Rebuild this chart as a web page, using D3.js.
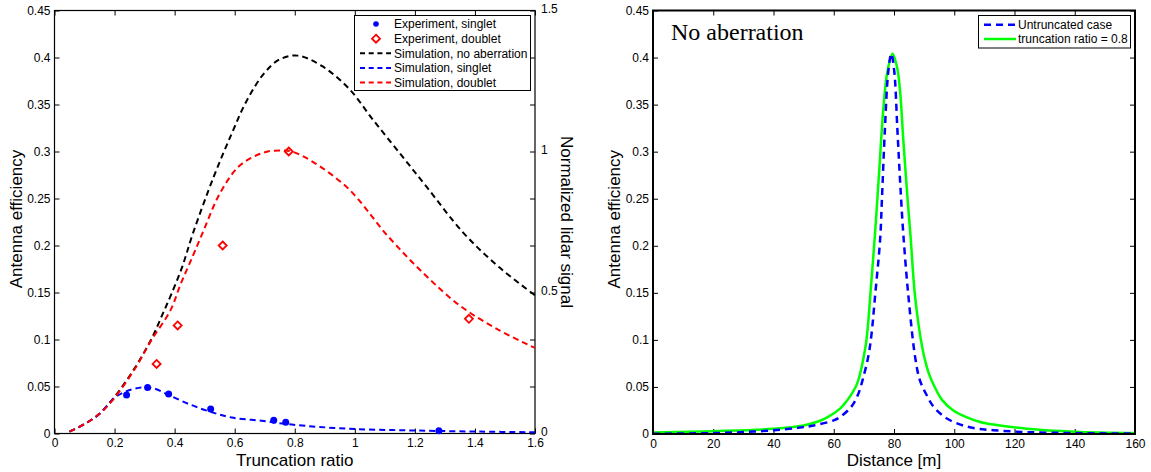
<!DOCTYPE html>
<html>
<head>
<meta charset="utf-8">
<script src="https://cdn.jsdelivr.net/npm/d3@7"></script>
<style>
  html, body { margin: 0; padding: 0; background: #fff; }
  svg { display: block; font-family: "Liberation Sans", Arial, sans-serif; }
</style>
</head>
<body>
<svg id="chart" width="1151" height="472"></svg>
<script>
// ---------- DATA ----------
// Left panel: truncation ratio vs antenna efficiency
const expSinglet = [[0.24,0.041],[0.31,0.049],[0.38,0.042],[0.52,0.026],[0.73,0.014],[0.77,0.012],[1.28,0.003]];
const expDoublet = [[0.34,0.074],[0.41,0.115],[0.56,0.2],[0.78,0.3],[1.38,0.122]];
const simNoAberration = [[0.05,0.002],[0.1,0.01],[0.15,0.021],[0.2,0.039],[0.27,0.071],[0.325,0.102],[0.36,0.127],[0.39,0.149],[0.425,0.177],[0.46,0.212],[0.53,0.273],[0.59,0.319],[0.64,0.354],[0.7,0.384],[0.75,0.398],[0.81,0.402],[0.89,0.391],[0.98,0.367],[1.06,0.334],[1.15,0.298],[1.24,0.262],[1.36,0.214],[1.48,0.177],[1.6,0.147]];
const simSinglet = [[0.05,0.002],[0.1,0.01],[0.15,0.021],[0.2,0.038],[0.24,0.045],[0.29,0.049],[0.33,0.048],[0.38,0.041],[0.45,0.031],[0.52,0.023],[0.59,0.017],[0.69,0.0135],[0.79,0.0095],[0.98,0.005],[1.2,0.0032],[1.42,0.002],[1.6,0.0013]];
const simDoublet = [[0.05,0.002],[0.1,0.01],[0.15,0.021],[0.2,0.038],[0.27,0.07],[0.32,0.098],[0.386,0.131],[0.42,0.159],[0.45,0.181],[0.49,0.211],[0.55,0.255],[0.61,0.283],[0.66,0.294],[0.71,0.3],[0.76,0.301],[0.79,0.3],[0.86,0.289],[0.98,0.26],[1.11,0.21],[1.23,0.17],[1.35,0.136],[1.48,0.11],[1.6,0.091]];
const leftXTicks = [0,0.2,0.4,0.6,0.8,1,1.2,1.4,1.6];
const effTicks = [0,0.05,0.1,0.15,0.2,0.25,0.3,0.35,0.4,0.45];
const lidarTickLabels = ["0","","","0.5","","","1","","","1.5"];
const leftLegend = ["Experiment, singlet","Experiment, doublet","Simulation, no aberration","Simulation, singlet","Simulation, doublet"];

// Right panel: distance vs antenna efficiency
const untruncated = [[0,0.0003],[20,0.001],[30,0.002],[40,0.004],[48,0.0065],[53.3,0.009],[60,0.0145],[62.1,0.018],[65,0.026],[66.5,0.032],[68.2,0.043],[69.8,0.06],[71.5,0.083],[72.5,0.105],[73.7,0.146],[75.4,0.207],[76,0.25],[77,0.325],[78.1,0.385],[79.1,0.404],[80.1,0.385],[81.1,0.325],[82,0.27],[83.1,0.212],[84.8,0.146],[87,0.082],[88.6,0.057],[90.9,0.041],[93.1,0.029],[96,0.02],[98.6,0.0146],[103,0.009],[107.5,0.0058],[113,0.004],[124,0.002],[140,0.001],[160,0.0004]];
const truncated08 = [[0,0.0015],[20,0.003],[40,0.0055],[50,0.009],[55,0.0135],[58,0.018],[62.1,0.027],[64.3,0.035],[67.7,0.053],[70.4,0.09],[71.2,0.11],[72.1,0.146],[73.7,0.213],[75,0.275],[76.5,0.347],[77.8,0.385],[79.5,0.404],[81,0.39],[82,0.365],[83.1,0.312],[84.5,0.25],[85.5,0.21],[87,0.146],[89.5,0.09],[91.5,0.065],[93.5,0.05],[96,0.036],[99.7,0.025],[104,0.018],[108.6,0.0128],[113,0.01],[124,0.0057],[140,0.0025],[160,0.001]];
const rightXTicks = [0,20,40,60,80,100,120,140,160];
const rightLegend = ["Untruncated case","truncation ratio = 0.8"];

// ---------- DRAW ----------
const svg = d3.select("#chart");
const FS_TICK = 12, FS_LABEL = 17;

function styleAxis(g, w) {
  g.select(".domain").remove();
  g.selectAll(".tick line").attr("stroke", "#000").attr("stroke-width", w);
  g.selectAll(".tick text").attr("fill", "#000").style("font-size", FS_TICK + "px")
    .style("font-family", "'Liberation Sans', Arial, sans-serif");
}

// ===== Left panel =====
const L = {x0: 54.5, x1: 535, y0: 10.5, y1: 433.5};
const xL = d3.scaleLinear().domain([0, 1.6]).range([L.x0, L.x1]);
const yL = d3.scaleLinear().domain([0, 0.45]).range([L.y1, L.y0]);

const gL = svg.append("g");
gL.append("g").attr("transform", `translate(0,${L.y1})`)
  .call(d3.axisBottom(xL).tickValues(leftXTicks).tickSize(-5).tickPadding(5).tickFormat(d3.format("~g")))
  .call(g => styleAxis(g, 1));
gL.append("g").attr("transform", `translate(0,${L.y0})`)
  .call(d3.axisTop(xL).tickValues(leftXTicks).tickSize(-5).tickFormat(""))
  .call(g => styleAxis(g, 1));
gL.append("g").attr("transform", `translate(${L.x0},0)`)
  .call(d3.axisLeft(yL).tickValues(effTicks).tickSize(-5).tickPadding(4).tickFormat(d3.format("~g")))
  .call(g => styleAxis(g, 1));
gL.append("g").attr("transform", `translate(${L.x1},0)`)
  .call(d3.axisRight(yL).tickValues(effTicks).tickSize(-5).tickPadding(6).tickFormat((d, i) => lidarTickLabels[i]))
  .call(g => styleAxis(g, 1))
  .call(g => g.selectAll(".tick text").attr("dy", "0.2em"));
gL.append("rect").attr("x", L.x0).attr("y", L.y0).attr("width", L.x1 - L.x0).attr("height", L.y1 - L.y0)
  .attr("fill", "none").attr("stroke", "#000").attr("stroke-width", 1.2);

const lineL = d3.line().x(d => xL(d[0])).y(d => yL(d[1])).curve(d3.curveCatmullRom.alpha(0.5));
const leftLines = [
  {data: simNoAberration, color: "#000000"},
  {data: simSinglet, color: "#0000ff"},
  {data: simDoublet, color: "#ff0000"}
];
leftLines.forEach(s => {
  gL.append("path").attr("d", lineL(s.data)).attr("fill", "none")
    .attr("stroke", s.color).attr("stroke-width", 2).attr("stroke-dasharray", "6,4");
});
gL.selectAll("circle.exp").data(expSinglet).join("circle").attr("class", "exp")
  .attr("cx", d => xL(d[0])).attr("cy", d => yL(d[1])).attr("r", 3.5).attr("fill", "#0000ff");
const diamond = (cx, cy, r) => `M${cx},${cy - r}L${cx + r},${cy}L${cx},${cy + r}L${cx - r},${cy}Z`;
gL.selectAll("path.dia").data(expDoublet).join("path").attr("class", "dia")
  .attr("d", d => diamond(xL(d[0]), yL(d[1]), 4)).attr("fill", "none")
  .attr("stroke", "#ff0000").attr("stroke-width", 1.8);

gL.append("text").attr("x", (L.x0 + L.x1) / 2).attr("y", 466).attr("text-anchor", "middle")
  .style("font-size", FS_LABEL + "px").text("Truncation ratio");
gL.append("text").attr("transform", `translate(22,${(L.y0 + L.y1) / 2 - 3}) rotate(-90)`).attr("text-anchor", "middle")
  .style("font-size", FS_LABEL + "px").text("Antenna efficiency");
gL.append("text").attr("transform", `translate(561,${(L.y0 + L.y1) / 2}) rotate(90)`).attr("text-anchor", "middle")
  .style("font-size", FS_LABEL + "px").text("Normalized lidar signal");

// left legend
const lgL = gL.append("g");
lgL.append("rect").attr("x", 354.5).attr("y", 15.5).attr("width", 176).attr("height", 75)
  .attr("fill", "#fff").attr("stroke", "#000").attr("stroke-width", 1);
const legRows = [24, 38.7, 53.3, 68, 82.5];
leftLegend.forEach((t, i) => {
  const y = legRows[i];
  if (i === 0) lgL.append("circle").attr("cx", 376).attr("cy", y).attr("r", 2.8).attr("fill", "#0000ff");
  else if (i === 1) lgL.append("path").attr("d", diamond(376, y, 4)).attr("fill", "none").attr("stroke", "#ff0000").attr("stroke-width", 1.8);
  else {
    const c = ["#000000", "#0000ff", "#ff0000"][i - 2];
    lgL.append("line").attr("x1", 360).attr("x2", 391).attr("y1", y).attr("y2", y)
      .attr("stroke", c).attr("stroke-width", 2).attr("stroke-dasharray", "5,3.7");
  }
  lgL.append("text").attr("x", 394).attr("y", y).attr("dy", "0.35em").style("font-size", "12px").text(t);
});

// ===== Right panel =====
const R = {x0: 653, x1: 1135, y0: 10.5, y1: 434};
const xR = d3.scaleLinear().domain([0, 160]).range([R.x0, R.x1]);
const yR = d3.scaleLinear().domain([0, 0.45]).range([R.y1, R.y0]);
const gR = svg.append("g");
gR.append("g").attr("transform", `translate(0,${R.y1})`)
  .call(d3.axisBottom(xR).tickValues(rightXTicks).tickSize(-5).tickPadding(5))
  .call(g => styleAxis(g, 1));
gR.append("g").attr("transform", `translate(0,${R.y0})`)
  .call(d3.axisTop(xR).tickValues(rightXTicks).tickSize(-5).tickFormat(""))
  .call(g => styleAxis(g, 1));
gR.append("g").attr("transform", `translate(${R.x0},0)`)
  .call(d3.axisLeft(yR).tickValues(effTicks).tickSize(-5).tickPadding(4).tickFormat(d3.format("~g")))
  .call(g => styleAxis(g, 1));
gR.append("g").attr("transform", `translate(${R.x1},0)`)
  .call(d3.axisRight(yR).tickValues(effTicks).tickSize(-5).tickFormat(""))
  .call(g => styleAxis(g, 1));

const lineR = d3.line().x(d => xR(d[0])).y(d => yR(d[1])).curve(d3.curveCatmullRom.alpha(0.5));
gR.append("path").attr("d", lineR(truncated08)).attr("fill", "none")
  .attr("stroke", "#00ff00").attr("stroke-width", 2.5);
gR.append("path").attr("d", lineR(untruncated)).attr("fill", "none")
  .attr("stroke", "#0000ff").attr("stroke-width", 2.5).attr("stroke-dasharray", "7,5");
gR.append("rect").attr("x", R.x0).attr("y", R.y0).attr("width", R.x1 - R.x0).attr("height", R.y1 - R.y0)
  .attr("fill", "none").attr("stroke", "#000").attr("stroke-width", 2);

gR.append("text").attr("x", (R.x0 + R.x1) / 2).attr("y", 466).attr("text-anchor", "middle")
  .style("font-size", FS_LABEL + "px").text("Distance [m]");
gR.append("text").attr("transform", `translate(620,${(R.y0 + R.y1) / 2 - 3}) rotate(-90)`).attr("text-anchor", "middle")
  .style("font-size", FS_LABEL + "px").text("Antenna efficiency");
gR.append("text").attr("x", 671).attr("y", 40).style("font-family", "'Liberation Serif', 'Times New Roman', serif")
  .style("font-size", "24px").text("No aberration");

const lgR = gR.append("g");
lgR.append("rect").attr("x", 978.5).attr("y", 15.5).attr("width", 152).attr("height", 32.5)
  .attr("fill", "#fff").attr("stroke", "#000").attr("stroke-width", 1);
const rRows = [24.7, 39];
rightLegend.forEach((t, i) => {
  const y = rRows[i];
  if (i === 0) lgR.append("line").attr("x1", 984).attr("x2", 1016).attr("y1", y).attr("y2", y)
    .attr("stroke", "#0000ff").attr("stroke-width", 2.5).attr("stroke-dasharray", "7,5");
  else lgR.append("line").attr("x1", 984).attr("x2", 1016).attr("y1", y).attr("y2", y)
    .attr("stroke", "#00ff00").attr("stroke-width", 2.5);
  lgR.append("text").attr("x", 1018).attr("y", y).attr("dy", "0.35em").style("font-size", "12px").text(t);
});
</script>
</body>
</html>
